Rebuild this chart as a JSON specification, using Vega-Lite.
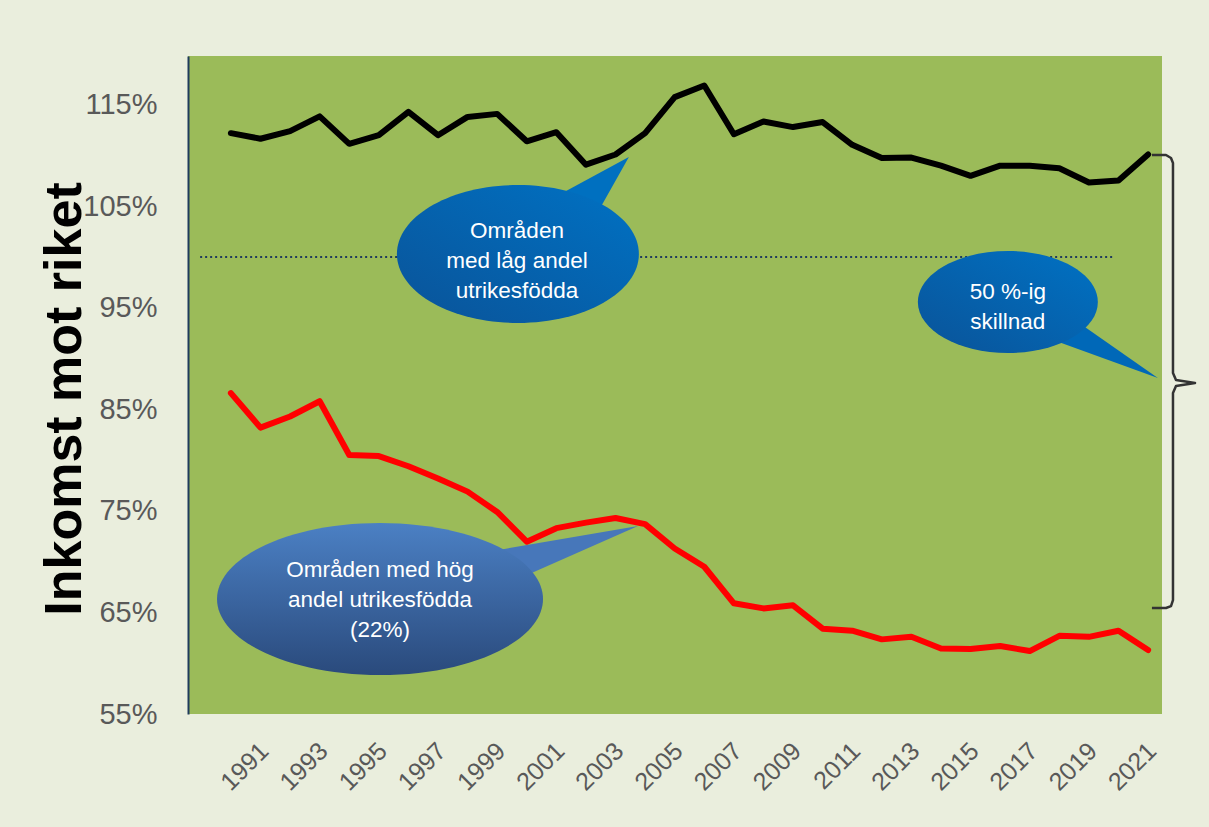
{
  "$schema": "https://vega.github.io/schema/vega-lite/v6.json",
  "width": 974,
  "height": 658,
  "autosize": {"type": "none"},
  "padding": {"left": 188, "top": 56, "right": 47, "bottom": 113},
  "background": "#EAEEDD",
  "config": {"view": {"fill": "#9BBB59", "stroke": null}, "font": "Liberation Sans"},
  "datasets": {
    "series": [
      {"year": 1990, "value": 112.2, "series": "Områden med låg andel utrikesfödda"},
      {"year": 1991, "value": 111.65, "series": "Områden med låg andel utrikesfödda"},
      {"year": 1992, "value": 112.4, "series": "Områden med låg andel utrikesfödda"},
      {"year": 1993, "value": 113.85, "series": "Områden med låg andel utrikesfödda"},
      {"year": 1994, "value": 111.15, "series": "Områden med låg andel utrikesfödda"},
      {"year": 1995, "value": 112.0, "series": "Områden med låg andel utrikesfödda"},
      {"year": 1996, "value": 114.3, "series": "Områden med låg andel utrikesfödda"},
      {"year": 1997, "value": 112.0, "series": "Områden med låg andel utrikesfödda"},
      {"year": 1998, "value": 113.8, "series": "Områden med låg andel utrikesfödda"},
      {"year": 1999, "value": 114.1, "series": "Områden med låg andel utrikesfödda"},
      {"year": 2000, "value": 111.4, "series": "Områden med låg andel utrikesfödda"},
      {"year": 2001, "value": 112.3, "series": "Områden med låg andel utrikesfödda"},
      {"year": 2002, "value": 109.1, "series": "Områden med låg andel utrikesfödda"},
      {"year": 2003, "value": 110.1, "series": "Områden med låg andel utrikesfödda"},
      {"year": 2004, "value": 112.2, "series": "Områden med låg andel utrikesfödda"},
      {"year": 2005, "value": 115.75, "series": "Områden med låg andel utrikesfödda"},
      {"year": 2006, "value": 116.9, "series": "Områden med låg andel utrikesfödda"},
      {"year": 2007, "value": 112.1, "series": "Områden med låg andel utrikesfödda"},
      {"year": 2008, "value": 113.35, "series": "Områden med låg andel utrikesfödda"},
      {"year": 2009, "value": 112.8, "series": "Områden med låg andel utrikesfödda"},
      {"year": 2010, "value": 113.3, "series": "Områden med låg andel utrikesfödda"},
      {"year": 2011, "value": 111.05, "series": "Områden med låg andel utrikesfödda"},
      {"year": 2012, "value": 109.75, "series": "Områden med låg andel utrikesfödda"},
      {"year": 2013, "value": 109.8, "series": "Områden med låg andel utrikesfödda"},
      {"year": 2014, "value": 109.0, "series": "Områden med låg andel utrikesfödda"},
      {"year": 2015, "value": 108.0, "series": "Områden med låg andel utrikesfödda"},
      {"year": 2016, "value": 109.0, "series": "Områden med låg andel utrikesfödda"},
      {"year": 2017, "value": 109.0, "series": "Områden med låg andel utrikesfödda"},
      {"year": 2018, "value": 108.75, "series": "Områden med låg andel utrikesfödda"},
      {"year": 2019, "value": 107.35, "series": "Områden med låg andel utrikesfödda"},
      {"year": 2020, "value": 107.55, "series": "Områden med låg andel utrikesfödda"},
      {"year": 2021, "value": 110.1, "series": "Områden med låg andel utrikesfödda"},
      {"year": 1990, "value": 86.6, "series": "Områden med hög andel utrikesfödda"},
      {"year": 1991, "value": 83.2, "series": "Områden med hög andel utrikesfödda"},
      {"year": 1992, "value": 84.3, "series": "Områden med hög andel utrikesfödda"},
      {"year": 1993, "value": 85.8, "series": "Områden med hög andel utrikesfödda"},
      {"year": 1994, "value": 80.5, "series": "Områden med hög andel utrikesfödda"},
      {"year": 1995, "value": 80.4, "series": "Områden med hög andel utrikesfödda"},
      {"year": 1996, "value": 79.4, "series": "Områden med hög andel utrikesfödda"},
      {"year": 1997, "value": 78.2, "series": "Områden med hög andel utrikesfödda"},
      {"year": 1998, "value": 76.9, "series": "Områden med hög andel utrikesfödda"},
      {"year": 1999, "value": 74.9, "series": "Områden med hög andel utrikesfödda"},
      {"year": 2000, "value": 71.97, "series": "Områden med hög andel utrikesfödda"},
      {"year": 2001, "value": 73.3, "series": "Områden med hög andel utrikesfödda"},
      {"year": 2002, "value": 73.85, "series": "Områden med hög andel utrikesfödda"},
      {"year": 2003, "value": 74.3, "series": "Områden med hög andel utrikesfödda"},
      {"year": 2004, "value": 73.7, "series": "Områden med hög andel utrikesfödda"},
      {"year": 2005, "value": 71.3, "series": "Områden med hög andel utrikesfödda"},
      {"year": 2006, "value": 69.5, "series": "Områden med hög andel utrikesfödda"},
      {"year": 2007, "value": 65.9, "series": "Områden med hög andel utrikesfödda"},
      {"year": 2008, "value": 65.4, "series": "Områden med hög andel utrikesfödda"},
      {"year": 2009, "value": 65.7, "series": "Områden med hög andel utrikesfödda"},
      {"year": 2010, "value": 63.4, "series": "Områden med hög andel utrikesfödda"},
      {"year": 2011, "value": 63.2, "series": "Områden med hög andel utrikesfödda"},
      {"year": 2012, "value": 62.35, "series": "Områden med hög andel utrikesfödda"},
      {"year": 2013, "value": 62.6, "series": "Områden med hög andel utrikesfödda"},
      {"year": 2014, "value": 61.45, "series": "Områden med hög andel utrikesfödda"},
      {"year": 2015, "value": 61.4, "series": "Områden med hög andel utrikesfödda"},
      {"year": 2016, "value": 61.7, "series": "Områden med hög andel utrikesfödda"},
      {"year": 2017, "value": 61.2, "series": "Områden med hög andel utrikesfödda"},
      {"year": 2018, "value": 62.7, "series": "Områden med hög andel utrikesfödda"},
      {"year": 2019, "value": 62.6, "series": "Områden med hög andel utrikesfödda"},
      {"year": 2020, "value": 63.2, "series": "Områden med hög andel utrikesfödda"},
      {"year": 2021, "value": 61.3, "series": "Områden med hög andel utrikesfödda"}
    ],
    "callouts": [
      {"id": "low", "year": 1999.70, "value": 100.30},
      {"id": "high", "year": 1995.04, "value": 66.32},
      {"id": "gap", "year": 2016.26, "value": 95.57}
    ],
    "labels": [
      {"id": "low", "year": 1999.67, "value": 101.88, "label": "Områden\nmed låg andel\nutrikesfödda"},
      {"id": "high", "year": 1995.04, "value": 68.49, "label": "Områden med hög\nandel utrikesfödda\n(22%)"},
      {"id": "gap", "year": 2016.26, "value": 95.87, "label": "50 %-ig\nskillnad"}
    ],
    "brace": [
      {"i": 0, "year": 2021.13, "value": 110.05},
      {"i": 1, "year": 2021.605, "value": 110.05},
      {"i": 2, "year": 2021.774, "value": 109.755},
      {"i": 3, "year": 2021.841, "value": 109.26},
      {"i": 4, "year": 2021.841, "value": 88.58},
      {"i": 5, "year": 2021.943, "value": 87.89},
      {"i": 6, "year": 2022.585, "value": 87.6},
      {"i": 7, "year": 2021.943, "value": 87.3},
      {"i": 8, "year": 2021.841, "value": 86.61},
      {"i": 9, "year": 2021.841, "value": 66.22},
      {"i": 10, "year": 2021.774, "value": 65.63},
      {"i": 11, "year": 2021.605, "value": 65.44},
      {"i": 12, "year": 2021.13, "value": 65.44}
    ],
    "reference": [
      {"year": 1988.96, "year_end": 2019.81, "value": 100}
    ]
  },
  "encoding": {
    "x": {
      "field": "year",
      "type": "quantitative",
      "scale": {"domain": [1988.55, 2021.47], "nice": false, "zero": false},
      "axis": {
        "values": [1991, 1993, 1995, 1997, 1999, 2001, 2003, 2005, 2007, 2009, 2011, 2013, 2015, 2017, 2019, 2021],
        "format": "d",
        "labelAngle": -45,
        "labelFontSize": 25,
        "labelColor": "#595959",
        "labelPadding": 24,
        "labelOffset": -5,
        "labelOverlap": false,
        "labelFlush": false,
        "grid": false,
        "ticks": false,
        "domain": false,
        "title": null
      }
    },
    "y": {
      "field": "value",
      "type": "quantitative",
      "scale": {"domain": [55, 119.8], "nice": false, "zero": false},
      "axis": {
        "values": [55, 65, 75, 85, 95, 105, 115],
        "labelExpr": "datum.value + '%'",
        "grid": false,
        "ticks": false,
        "domain": true,
        "domainColor": "#1F3B5C",
        "domainWidth": 2,
        "labelFontSize": 29,
        "labelColor": "#595959",
        "labelPadding": 31,
        "labelOverlap": false,
        "labelFlush": false,
        "title": "Inkomst mot riket",
        "titleFont": "Liberation Sans",
        "titleFontSize": 52,
        "titleFontWeight": "bold",
        "titleColor": "#000000",
        "titleX": -108,
        "titleY": 342.5,
        "titleAlign": "center",
        "titleBaseline": "alphabetic"
      }
    }
  },
  "layer": [
    {
      "data": {"name": "reference"},
      "mark": {"type": "rule", "color": "#1F3B5C", "strokeWidth": 2, "strokeDash": [2, 3]},
      "encoding": {"x2": {"field": "year_end"}}
    },
    {
      "data": {"name": "series"},
      "mark": {"type": "line", "strokeWidth": 6, "strokeCap": "round", "strokeJoin": "round"},
      "encoding": {
        "color": {
          "field": "series",
          "type": "nominal",
          "scale": {"domain": ["Områden med låg andel utrikesfödda", "Områden med hög andel utrikesfödda"], "range": ["#000000", "#FF0000"]},
          "legend": null
        }
      }
    },
    {
      "data": {"name": "callouts"},
      "transform": [{"filter": "datum.id === 'low'"}],
      "mark": {"type": "point", "shape": "M 0.36 -0.50 L 0.917 -0.802 L 0.68 -0.38 Z", "size": 58564, "filled": true, "fill": "#0070C0", "opacity": 1, "strokeWidth": 0}
    },
    {
      "data": {"name": "callouts"},
      "transform": [{"filter": "datum.id === 'low'"}],
      "mark": {"type": "point", "shape": "M -1 0 C -1 -0.3148 -0.5523 -0.57 0 -0.57 C 0.5523 -0.57 1 -0.3148 1 0 C 1 0.3148 0.5523 0.57 0 0.57 C -0.5523 0.57 -1 0.3148 -1 0 Z", "size": 58564, "filled": true, "opacity": 1, "strokeWidth": 0,
        "fill": {"gradient": "linear", "x1": 1, "y1": 0, "x2": 0, "y2": 1, "stops": [{"offset": 0, "color": "#0072C4"}, {"offset": 1, "color": "#0A5398"}]}}
    },
    {
      "data": {"name": "callouts"},
      "transform": [{"filter": "datum.id === 'high'"}],
      "mark": {"type": "point", "shape": "M 0.72 -0.30 L 1.583 -0.448 L 0.93 -0.16 Z", "size": 106276, "filled": true, "fill": "#4777BA", "opacity": 1, "strokeWidth": 0}
    },
    {
      "data": {"name": "callouts"},
      "transform": [{"filter": "datum.id === 'high'"}],
      "mark": {"type": "point", "shape": "M -1 0 C -1 -0.2574 -0.5523 -0.466 0 -0.466 C 0.5523 -0.466 1 -0.2574 1 0 C 1 0.2574 0.5523 0.466 0 0.466 C -0.5523 0.466 -1 0.2574 -1 0 Z", "size": 106276, "filled": true, "opacity": 1, "strokeWidth": 0,
        "fill": {"gradient": "linear", "x1": 0, "y1": 0, "x2": 0, "y2": 1, "stops": [{"offset": 0, "color": "#4B80C4"}, {"offset": 1, "color": "#2A4A7C"}]}}
    },
    {
      "data": {"name": "callouts"},
      "transform": [{"filter": "datum.id === 'gap'"}],
      "mark": {"type": "point", "shape": "M 0.86 0.28 L 1.667 0.844 L 0.58 0.45 Z", "size": 32400, "filled": true, "fill": "#0068B8", "opacity": 1, "strokeWidth": 0}
    },
    {
      "data": {"name": "callouts"},
      "transform": [{"filter": "datum.id === 'gap'"}],
      "mark": {"type": "point", "shape": "M -1 0 C -1 -0.3131 -0.5523 -0.567 0 -0.567 C 0.5523 -0.567 1 -0.3131 1 0 C 1 0.3131 0.5523 0.567 0 0.567 C -0.5523 0.567 -1 0.3131 -1 0 Z", "size": 32400, "filled": true, "opacity": 1, "strokeWidth": 0,
        "fill": {"gradient": "linear", "x1": 1, "y1": 0, "x2": 0, "y2": 1, "stops": [{"offset": 0, "color": "#0072C4"}, {"offset": 1, "color": "#0A5398"}]}}
    },
    {
      "data": {"name": "labels"},
      "mark": {"type": "text", "color": "#FFFFFF", "fontSize": 22.5, "lineHeight": 30, "align": "center", "baseline": "alphabetic", "lineBreak": "\n"},
      "encoding": {"text": {"field": "label"}}
    },
    {
      "data": {"name": "brace"},
      "mark": {"type": "line", "color": "#333333", "strokeWidth": 2.5, "strokeJoin": "round"},
      "encoding": {"order": {"field": "i", "type": "quantitative"}}
    }
  ]
}
